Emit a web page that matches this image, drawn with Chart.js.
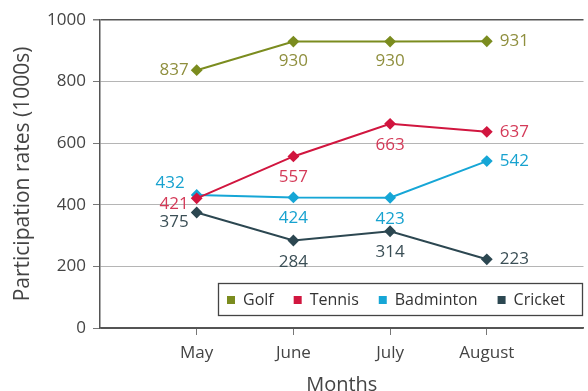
<!DOCTYPE html>
<html>
<head>
<meta charset="utf-8">
<script src="https://cdn.jsdelivr.net/npm/chart.js@4"></script>
<style>
  html, body { margin: 0; padding: 0; background: #fff; overflow: hidden; }
  #wrap { width: 588px; height: 391px; overflow: hidden; }
</style>
</head>
<body>
<div id="wrap"><canvas id="partChart" width="590" height="400"></canvas></div>
<script>
// data
const months = ["May", "June", "July", "August"];
const golf = [837, 930, 930, 931];
const tennis = [421, 557, 663, 637];
const badminton = [432, 424, 423, 542];
const cricket = [375, 284, 314, 223];
const yTicks = [0, 200, 400, 600, 800, 1000];

// where each value label sits next to its point [dx, dy, align]
const golfLabelPos = [[-8, 0, "right"], [0, 20, "center"], [0, 20, "center"], [13, 0, "left"]];
const tennisLabelPos = [[-8, 6, "right"], [0, 21, "center"], [0, 21, "center"], [13, 0, "left"]];
const badmintonLabelPos = [[-12, -12, "right"], [0, 21, "center"], [0, 21, "center"], [13, 0, "left"]];
const cricketLabelPos = [[-8, 10, "right"], [0, 22, "center"], [0, 21, "center"], [13, 0, "left"]];

const FONT = "'Open Sans', 'Noto Sans', sans-serif";

function points(values) {
  return values.map((v, i) => ({ x: i + 1, y: v }));
}

function makeSet(label, values, color, labelColor, labelPos) {
  return {
    label: label,
    data: points(values),
    borderColor: color,
    backgroundColor: color,
    pointBackgroundColor: color,
    pointBorderColor: color,
    pointStyle: "rectRot",
    pointRadius: 4.5,
    borderWidth: 2,
    labelColor: labelColor,
    labelPos: labelPos,
    values: values
  };
}

const valueLabels = {
  id: "valueLabels",
  afterDatasetsDraw(chart) {
    const ctx = chart.ctx;
    ctx.save();
    ctx.font = "17px " + FONT;
    ctx.textBaseline = "middle";
    chart.data.datasets.forEach((ds, di) => {
      const meta = chart.getDatasetMeta(di);
      meta.data.forEach((pt, i) => {
        const p = ds.labelPos[i];
        ctx.fillStyle = ds.labelColor;
        ctx.textAlign = p[2];
        ctx.fillText(String(ds.values[i]), pt.x + p[0], pt.y + p[1]);
      });
    });
    ctx.restore();
  }
};

const boxLegend = {
  id: "boxLegend",
  afterDraw(chart) {
    const ctx = chart.ctx;
    ctx.save();
    const left = 218, top = 283, right = 582, bottom = 315;
    ctx.fillStyle = "#fff";
    ctx.fillRect(left, top, right - left, bottom - top);
    ctx.strokeStyle = "#444";
    ctx.lineWidth = 1.3;
    ctx.strokeRect(left + 0.5, top + 0.5, right - left, bottom - top);
    ctx.font = "16px " + FONT;
    ctx.textBaseline = "middle";
    ctx.textAlign = "left";
    let x = 227;
    const y = (top + bottom) / 2 + 1;
    chart.data.datasets.forEach(ds => {
      ctx.fillStyle = ds.borderColor;
      ctx.fillRect(x, y - 4, 8, 8);
      x += 16;
      ctx.fillStyle = "#333";
      ctx.fillText(ds.label, x, y);
      x += ctx.measureText(ds.label).width + 20;
    });
    ctx.restore();
  }
};

const config = {
  type: "line",
  data: {
    datasets: [
      makeSet("Golf", golf, "#7b8c1f", "#8f8f3e", golfLabelPos),
      makeSet("Tennis", tennis, "#d1163f", "#d43a58", tennisLabelPos),
      makeSet("Badminton", badminton, "#16a6d6", "#17a2cf", badmintonLabelPos),
      makeSet("Cricket", cricket, "#2c4751", "#3b4f56", cricketLabelPos)
    ]
  },
  options: {
    responsive: false,
    devicePixelRatio: 1,
    animation: false,
    layout: { padding: { top: 20, right: 0, left: 0, bottom: 0 } },
    plugins: { legend: { display: false }, tooltip: { enabled: false } },
    scales: {
      x: {
        type: "linear",
        min: 0,
        max: 5,
        afterBuildTicks: (scale) => {
          scale.ticks = months.map((m, i) => ({ value: i + 1 }));
        },
        afterFit: (scale) => { scale.height = 72; },
        ticks: {
          callback: (v) => months[v - 1] || "",
          font: { family: FONT, size: 17 },
          color: "#444",
          padding: 8,
          maxRotation: 0,
          autoSkip: false
        },
        grid: {
          drawOnChartArea: false,
          drawTicks: true,
          tickLength: 7,
          tickColor: "#777"
        },
        border: { display: true, color: "#555", width: 1.5 },
        title: {
          display: true,
          text: "Months",
          font: { family: FONT, size: 20 },
          color: "#444",
          padding: { top: 0, bottom: 3 }
        }
      },
      y: {
        min: 0,
        max: 1000,
        afterBuildTicks: (scale) => {
          scale.ticks = yTicks.map(v => ({ value: v }));
        },
        afterFit: (scale) => { scale.width = 100; },
        ticks: {
          callback: (v) => String(v),
          font: { family: FONT, size: 17 },
          color: "#444",
          padding: 7
        },
        grid: {
          color: (c) => (c.tick && (c.tick.value === 1000 || c.tick.value === 0)) ? "#555" : "#b5b5b5",
          lineWidth: (c) => (c.tick && c.tick.value === 1000) ? 1.5 : 1,
          tickLength: 7,
          tickColor: "#777"
        },
        border: { display: true, color: "#555", width: 1.5 },
        title: {
          display: true,
          text: "Participation rates (1000s)",
          font: { family: FONT, size: 21 },
          color: "#444",
          padding: { top: 10, bottom: 0 }
        }
      }
    }
  },
  plugins: [valueLabels, boxLegend]
};

window.myChart = new Chart(document.getElementById("partChart"), config);
</script>
</body>
</html>
